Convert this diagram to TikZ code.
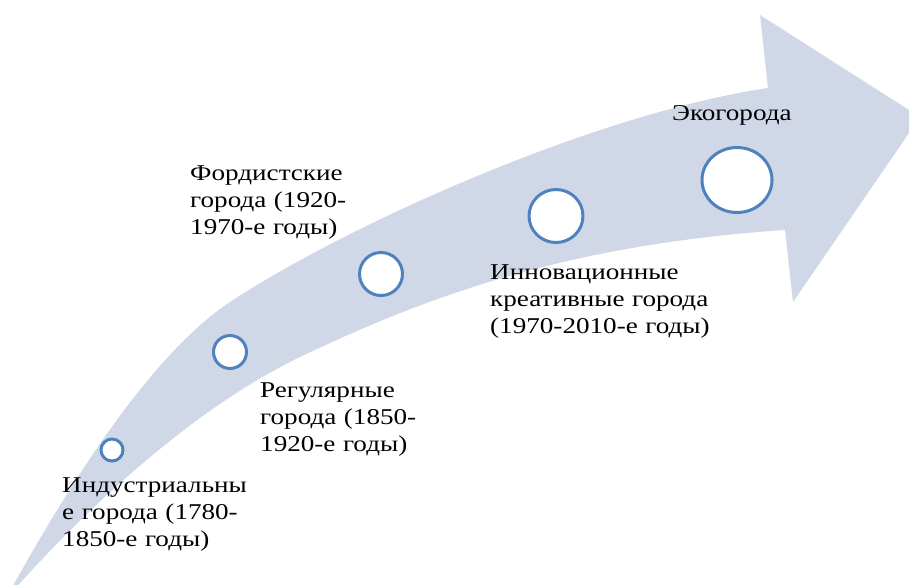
\documentclass[tikz,border=0pt]{standalone}
\usepackage{fontspec}
\setmainfont{Liberation Serif}[FakeStretch=1.2]
\usetikzlibrary{shapes.geometric}
\definecolor{arrowfill}{RGB}{208,216,232}
\definecolor{ringblue}{RGB}{79,129,189}
\tikzset{
  ring/.style={ellipse, draw=ringblue, line width=3pt, fill=white, inner sep=0pt},
  lbl/.style={anchor=base west, inner sep=0pt, text width=300pt, align=left,
    font=\fontsize{22.6}{27}\selectfont, text=black}
}
\begin{document}
\begin{tikzpicture}[x=1pt,y=-1pt]
\useasboundingbox (0,0) rectangle (909,584);
\begin{scope}
\clip (0,0) rectangle (909,584);
\fill[arrowfill]
  (5,600) .. controls (55,510) and (143,358) .. (233,300)
  .. controls (353,222) and (598,113) .. (768,88)
  -- (760,15) -- (920,117) -- (793,302) -- (785,230)
  .. controls (560,245) and (420,300) .. (300,357)
  .. controls (190,410) and (80,514) .. (5,600)
  -- cycle;
\end{scope}

\node[ring, minimum width=22pt, minimum height=22pt] (c1) at (112,450) {};
\node[ring, minimum width=33pt, minimum height=33pt] (c2) at (230,352) {};
\node[ring, minimum width=43pt, minimum height=43pt] (c3) at (381,274) {};
\node[ring, minimum width=54pt, minimum height=53pt] (c4) at (556,216) {};
\node[ring, minimum width=70pt, minimum height=65pt] (c5) at (737,180) {};

\node[lbl] (t1) at (62,492) {Индустриальны\\е города (1780-\\1850-е годы)};
\node[lbl] (t2) at (260,397) {Регулярные\\города (1850-\\1920-е годы)};
\node[lbl] (t3) at (190,180) {Фордистские\\города (1920-\\1970-е годы)};
\node[lbl] (t4) at (490,279) {Инновационные\\креативные города\\(1970-2010-е годы)};
\node[lbl] (t5) at (672,120) {Экогорода};
\end{tikzpicture}
\end{document}
